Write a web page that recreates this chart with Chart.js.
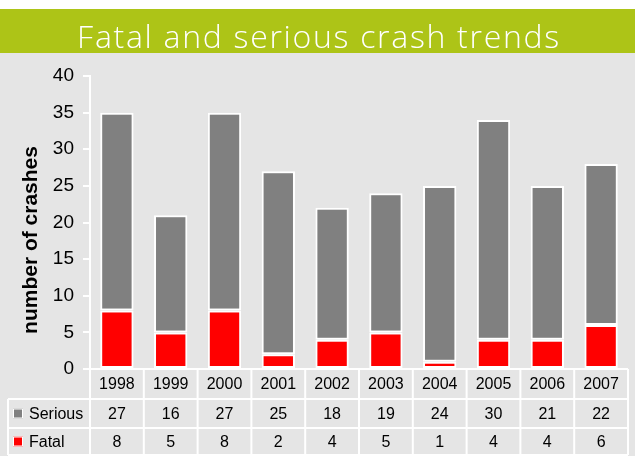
<!DOCTYPE html>
<html>
<head>
<meta charset="utf-8">
<script src="https://cdn.jsdelivr.net/npm/chart.js@4/dist/chart.umd.min.js"></script>
<style>
  html, body { margin: 0; padding: 0; background: #fff; }
  #wrap { position: relative; width: 635px; height: 456px; }
</style>
</head>
<body>
<div id="wrap"><canvas id="crashChart" width="635" height="456"></canvas></div>
<script>
const years = ['1998', '1999', '2000', '2001', '2002', '2003', '2004', '2005', '2006', '2007'];
const serious = [27, 16, 27, 25, 18, 19, 24, 30, 21, 22];
const fatal = [8, 5, 8, 2, 4, 5, 1, 4, 4, 6];

const titleText = 'Fatal and serious crash trends';
const yTitle = 'number of crashes';

const GREEN = '#adc417';
const BG = '#e5e5e5';
const GREY = '#808080';
const RED = '#ff0000';

// background, title bar, axis title and the data table under the bars
const decorations = {
    id: 'decorations',
    beforeDraw(chart) {
        const c = chart.ctx;
        c.save();
        c.fillStyle = BG;
        c.fillRect(0, 53, 635, 456 - 53);
        c.fillStyle = GREEN;
        c.fillRect(0, 9, 635, 44);
        c.fillStyle = '#fff';
        c.font = '300 32px "Open Sans", "DejaVu Sans", sans-serif';
        c.letterSpacing = '1.7px';
        c.textAlign = 'center';
        c.textBaseline = 'alphabetic';
        c.fillText(titleText, 319, 48);
        c.letterSpacing = '0px';

        c.fillStyle = '#000';
        c.font = 'bold 21px "Liberation Sans", Arial, sans-serif';
        c.translate(31, 240);
        c.rotate(-Math.PI / 2);
        c.textAlign = 'center';
        c.textBaseline = 'middle';
        c.fillText(yTitle, 0, 0);
        c.restore();
    },
    afterDraw(chart) {
        const c = chart.ctx;
        const x = chart.scales.x;
        const area = chart.chartArea;
        const colW = (area.right - area.left) / years.length;
        const rows = [area.bottom, 399, 428, 455];
        c.save();
        c.strokeStyle = '#fff';
        c.lineWidth = 2;
        c.beginPath();
        c.moveTo(area.left, rows[0]); c.lineTo(area.right, rows[0]);
        for (let r = 1; r < rows.length; r++) {
            c.moveTo(8, rows[r]); c.lineTo(area.right, rows[r]);
        }
        for (let i = 0; i <= years.length; i++) {
            const xx = area.left + i * colW;
            c.moveTo(xx, rows[0]); c.lineTo(xx, rows[3]);
        }
        c.moveTo(8, rows[1]); c.lineTo(8, rows[3]);
        c.stroke();

        c.fillStyle = '#000';
        c.font = '16px "Liberation Sans", Arial, sans-serif';
        c.textAlign = 'center';
        c.textBaseline = 'middle';
        years.forEach((y, i) => {
            const cx = x.getPixelForValue(i);
            c.fillText(y, cx, (rows[0] + rows[1]) / 2 + 1);
            c.fillText(String(serious[i]), cx, (rows[1] + rows[2]) / 2 + 1);
            c.fillText(String(fatal[i]), cx, (rows[2] + rows[3]) / 2 + 1);
        });

        // legend keys
        const keys = [[GREY, 'Serious', (rows[1] + rows[2]) / 2], [RED, 'Fatal', (rows[2] + rows[3]) / 2]];
        c.textAlign = 'left';
        keys.forEach(([col, label, cy]) => {
            c.fillStyle = col;
            c.fillRect(13, cy - 5, 10, 10);
            c.strokeStyle = '#fff';
            c.lineWidth = 1;
            c.strokeRect(13.5, cy - 4.5, 9, 9);
            c.fillStyle = '#000';
            c.fillText(label, 29, cy + 1);
        });
        c.restore();
    }
};

new Chart(document.getElementById('crashChart'), {
    type: 'bar',
    data: {
        labels: years,
        datasets: [
            {
                label: 'Fatal',
                data: fatal,
                backgroundColor: RED,
                borderColor: '#fff',
                borderWidth: 2,
                borderSkipped: false
            },
            {
                label: 'Serious',
                data: serious,
                backgroundColor: GREY,
                borderColor: '#fff',
                borderWidth: 2,
                borderSkipped: false
            }
        ]
    },
    options: {
        responsive: false,
        animation: false,
        devicePixelRatio: 1,
        layout: { padding: { top: 76, bottom: 87, right: 7, left: 0 } },
        plugins: {
            legend: { display: false },
            tooltip: { enabled: false }
        },
        datasets: {
            bar: { barPercentage: 0.62, categoryPercentage: 1 }
        },
        scales: {
            x: {
                stacked: true,
                display: false
            },
            y: {
                stacked: true,
                min: 0,
                max: 40,
                ticks: {
                    stepSize: 5,
                    color: '#000',
                    padding: 9,
                    font: { family: '"Liberation Sans", Arial, sans-serif', size: 19 }
                },
                grid: {
                    drawOnChartArea: false,
                    color: '#fff',
                    lineWidth: 2,
                    tickLength: 7
                },
                border: { color: '#fff', width: 2 },
                afterFit(scale) { scale.width = 90; }
            }
        }
    },
    plugins: [decorations]
});
</script>
</body>
</html>
